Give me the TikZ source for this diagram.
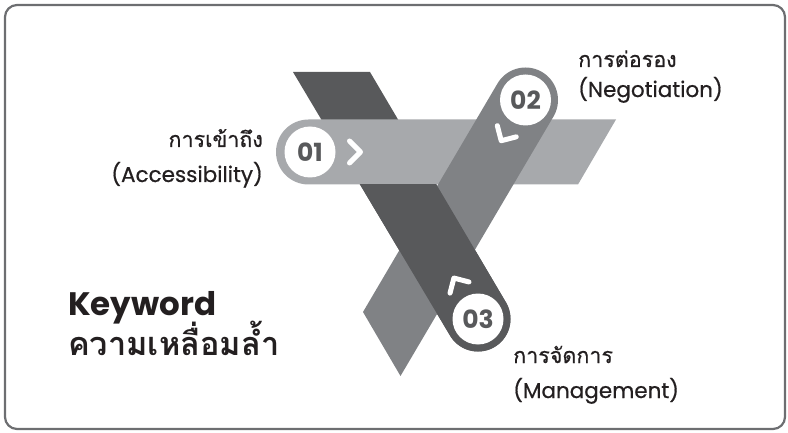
\documentclass[tikz,border=0pt]{standalone}
\usepackage{fontspec}
\setmainfont{Poppins}
\newfontfamily\labelfont[FakeBold=0.6]{Poppins}
\newfontfamily\thaifont[Script=Thai]{Loma}
\newfontfamily\thailabelfont[Script=Thai, FakeBold=0.6]{Loma}
\usetikzlibrary{positioning}

\definecolor{bandlight}{HTML}{A7A9AC}
\definecolor{bandmid}{HTML}{808285}
\definecolor{banddark}{HTML}{58595B}
\definecolor{ink}{HTML}{231F20}
\definecolor{framegray}{HTML}{6D6E71}

\tikzset{
	numdisc/.style={circle, fill=white, minimum size=51pt, inner sep=0pt,
		text=banddark, font=\fontsize{25}{25}\selectfont\bfseries},
	chevron/.style={draw=white, line width=5pt, line cap=round, line join=round},
	topic/.style={inner sep=0pt, text=ink, font=\fontsize{21.5}{21.5}\selectfont\labelfont},
	thaitopic/.style={topic, font=\fontsize{21.5}{21.5}\selectfont\thailabelfont},
	headline/.style={inner sep=0pt, text=ink, font=\fontsize{32.5}{32.5}\selectfont\bfseries}
}

\newcommand{\darkstrip}{(293,72) -- (370,72) -- (506,302.5) -- (450,335.5) -- cycle
	(478,319) circle[radius=32.5]}

\begin{document}
\begin{tikzpicture}[x=1pt, y=-1pt]
	\useasboundingbox (0,0) rectangle (788,433);
	\draw [framegray, line width=2.2pt, rounded corners=12pt] (5,5) rectangle (785,429);

	% bands
	\fill [banddark] \darkstrip;
	\fill [bandlight] (308.5,119.5) -- (616,119.5) -- (578,184.5) -- (308.5,184.5) -- cycle
		(308.5,152) circle[radius=32.5];
	\fill [bandmid] (497.5,83.5) -- (553.5,116.5) -- (400.5,376) -- (363,312) -- cycle
		(525.5,100) circle[radius=32.5];
	\begin{scope}
		\clip (0,184.5) rectangle (788,433);
		\fill [banddark] \darkstrip;
	\end{scope}

	% discs
	\node (one) [numdisc] at (310,152) {01};
	\node (two) [numdisc] at (525.5,100) {02};
	\node (three) [numdisc] at (478,319) {03};

	% chevrons
	\draw [chevron, shift={(355,152)}] (-5.5,-11) -- (5.5,0) -- (-5.5,11);
	\draw [chevron, shift={(504,136)}, rotate=239.5] (-5.5,-11) -- (5.5,0) -- (-5.5,11);
	\draw [chevron, shift={(456.7,282.8)}, rotate=120.5] (-5.5,-11) -- (5.5,0) -- (-5.5,11);

	% labels
	\node (acc th) [thaitopic, anchor=base east] at (263,147) {การเข้าถึง};
	\node (acc en) [topic, anchor=base east] at (263,182) {(Accessibility)};
	\node (neg th) [thaitopic, anchor=base west] at (578,67) {การต่อรอง};
	\node (neg en) [topic, anchor=base west] at (578,97) {(Negotiation)};
	\node (man th) [thaitopic, anchor=base west] at (513,363) {การจัดการ};
	\node (man en) [topic, anchor=base west] at (513,398) {(Management)};

	\node (key en) [headline, anchor=base west] at (68,315) {Keyword};
	\node (key th) [headline, font=\fontsize{32.5}{32.5}\selectfont\bfseries\thaifont, anchor=base west] at (68,355) {ความเหลื่อมล้ำ};
\end{tikzpicture}
\end{document}
